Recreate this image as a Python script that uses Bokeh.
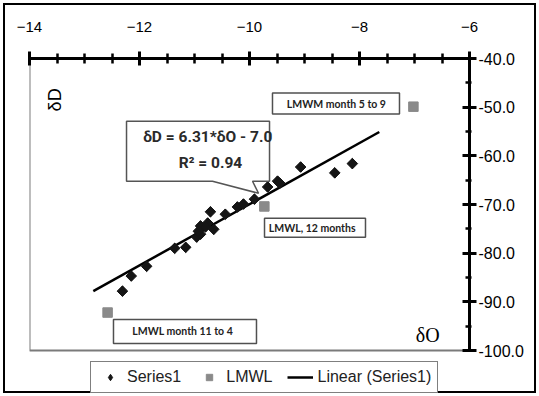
import math
from bokeh.plotting import figure
from bokeh.models import (Range1d, SingleIntervalTicker, NumeralTickFormatter, Legend,
                          LegendItem, BoxAnnotation, Label, PolyAnnotation, InlineStyleSheet)
from bokeh.embed import file_html
from bokeh.resources import INLINE

# Series1 (delta-O, delta-D)
series1_o = [-12.31, -12.15, -11.87, -11.36, -11.16, -10.96, -10.89, -10.76, -10.65, -10.71,
             -10.89, -10.93, -10.80, -10.44, -10.22, -10.11, -9.91, -9.67, -9.49, -9.45,
             -9.07, -8.45, -8.13]
series1_d = [-87.8, -84.7, -82.7, -79.0, -78.8, -76.7, -74.4, -73.8, -75.1, -71.5,
             -76.1, -75.5, -74.6, -72.0, -70.5, -69.9, -68.9, -66.4, -65.2, -65.6,
             -62.3, -63.5, -61.6]
# LMWL points
lmwl_o = [-12.58, -9.73, -7.02]
lmwl_d = [-92.2, -70.4, -49.9]
# Linear trend (Series1) end points
trend_o = [-12.84, -7.64]
trend_d = [-87.8, -55.1]

x_ticks_bounds = (-14, -6)
y_ticks_bounds = (-100, -40)
equation_text = "δD = 6.31*δO - 7.0"
r2_text = "R² = 0.94"

# the frame is extended below -100 so that the legend (drawn in the frame) is not clipped
p = figure(width=539, height=396, output_backend="svg", toolbar_location=None,
           x_range=Range1d(-14, -6), y_range=Range1d(-109.45, -40),
           x_axis_location="above", y_axis_location="right",
           min_border_left=29, min_border_right=70, min_border_top=58, min_border_bottom=0)
p.stylesheets = [InlineStyleSheet(css=":host { outline: 2px solid black; outline-offset: -5px; }")]
p.grid.visible = False
p.background_fill_color = None
p.border_fill_color = None
p.outline_line_color = None

xa = p.xaxis[0]
xa.ticker = SingleIntervalTicker(interval=2, num_minor_ticks=4)
xa.bounds = x_ticks_bounds
ya = p.yaxis[0]
ya.ticker = SingleIntervalTicker(interval=10, num_minor_ticks=2)
ya.formatter = NumeralTickFormatter(format="0.0")
ya.bounds = y_ticks_bounds
for ax in (xa, ya):
    ax.axis_line_width = 3
    ax.axis_line_color = "black"
    ax.major_tick_line_width = 3
    ax.major_tick_line_color = "black"
    ax.minor_tick_line_width = 2.5
    ax.minor_tick_line_color = "black"
    ax.major_tick_in = 7
    ax.major_tick_out = 7
    ax.major_label_text_font = "Liberation Sans"
    ax.major_label_text_color = "black"
xa.minor_tick_in = 5
xa.minor_tick_out = 5
xa.major_label_text_font_size = "15px"
xa.major_label_standoff = 20
ya.minor_tick_in = 4
ya.minor_tick_out = 2
ya.major_label_text_font_size = "16px"
ya.major_label_standoff = 2

# gray plot-area frame (left and bottom edges visible)
p.add_layout(BoxAnnotation(left=-14, right=-6, top=-40, bottom=-100, fill_alpha=0,
                           line_color="#7a7a7a", line_alpha=1, line_width=2, level="underlay"))

r_line = p.line(trend_o, trend_d, line_color="black", line_width=2.5)
# Series1: diamond glyph (used for the legend) with rotated squares on top for a square diamond look
r_s1 = p.scatter(series1_o, series1_d, marker="diamond", size=10,
                 fill_color="#151515", line_color="#151515")
p.scatter(series1_o, series1_d, marker="square", angle=math.pi / 4, size=7.5,
          fill_color="#151515", line_color="#151515")
r_lm = p.scatter(lmwl_o, lmwl_d, marker="square", size=9.5,
                 fill_color="#8a8a8a", line_color="#8a8a8a")

# callout with the regression equation
p.add_layout(PolyAnnotation(xs=[-12.236, -9.636, -9.636, -9.945, -9.836, -10.673, -12.236],
                            ys=[-52.87, -52.87, -65.22, -65.22, -67.69, -65.22, -65.22],
                            fill_color="white", fill_alpha=1, line_color="#555555",
                            line_alpha=1, line_width=1.5))
bold_font = "Roboto"
p.add_layout(Label(x=-10.76, y=-56.2, text=equation_text, text_font=bold_font,
                   text_font_size="15.5px", text_font_style="bold", text_color="#2a2a2a",
                   text_align="center", text_baseline="middle"))
p.add_layout(Label(x=-10.71, y=-61.5, text=r2_text, text_font=bold_font,
                   text_font_size="15.5px", text_font_style="bold", text_color="#2a2a2a",
                   text_align="center", text_baseline="middle"))

# small labelled boxes
boxes = [(-9.582, -7.273, -47.10, -51.42), (-9.727, -7.891, -72.83, -76.74),
         (-12.473, -9.873, -93.62, -98.56)]
for l, r, t, b in boxes:
    p.add_layout(BoxAnnotation(left=l, right=r, top=t, bottom=b, fill_color="white",
                               fill_alpha=1, line_color="#505050", line_alpha=1, line_width=1.5))
small = dict(text_font="Lato", text_font_size="10.5px", text_font_style="bold",
             text_color="#222222", text_baseline="middle")
p.add_layout(Label(x=-8.42, y=-49.3, text="LMWM month 5 to 9", text_align="center", **small))
p.add_layout(Label(x=-8.86, y=-74.8, text="LMWL, 12 months", text_align="center", **small))
p.add_layout(Label(x=-12.13, y=-96.0, text="LMWL month 11 to 4", text_align="left", **small))

# axis titles
p.add_layout(Label(x=-13.53, y=-48.5, text="δD", angle=math.pi / 2, text_font="Liberation Sans",
                   text_font_size="18px", text_color="black", text_align="center",
                   text_baseline="middle"))
p.add_layout(Label(x=-6.76, y=-96.9, text="δO", text_font="Liberation Serif",
                   text_font_size="20px", text_color="black", text_align="center",
                   text_baseline="middle"))

legend = Legend(items=[LegendItem(label="Series1", renderers=[r_s1]),
                       LegendItem(label="LMWL", renderers=[r_lm]),
                       LegendItem(label="Linear (Series1)", renderers=[r_line])],
                orientation="horizontal", location=(61, 3),
                label_text_font="Liberation Sans",
                label_text_font_size="16px", label_text_color="#222222",
                glyph_width=26, label_standoff=4, spacing=15, padding=6, margin=0,
                label_height=16, glyph_height=16,
                border_line_color="black", border_line_width=1.5,
                background_fill_color="white", background_fill_alpha=1)
p.add_layout(legend, "center")

open("out.html", "w").write(file_html(p, INLINE))
